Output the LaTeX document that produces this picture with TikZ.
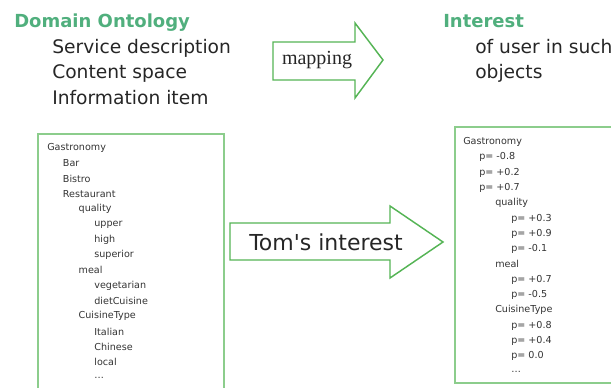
\documentclass[tikz,border=0pt]{standalone}
\usepackage{fontspec}
\setmainfont{DejaVu Sans}
\newfontfamily\mapfont{Liberation Serif}
\usetikzlibrary{positioning}
\definecolor{headgreen}{RGB}{80,175,125}
\definecolor{boxgreen}{RGB}{140,205,140}
\definecolor{arrowgreen}{RGB}{85,180,85}

\begin{document}
\begin{tikzpicture}[x=0.75pt, y=-0.75pt,
    head/.style={anchor=base west, inner sep=0pt, font=\bfseries\fontsize{13.5}{16}\selectfont, text=headgreen},
    item/.style={anchor=base west, inner sep=0pt, font=\fontsize{14}{17}\selectfont, text=black!85},
    tree/.style={anchor=west, inner sep=0pt, font=\fontsize{7.2}{8}\selectfont, text=black!80},
    frame/.style={draw=boxgreen, line width=1.3pt},
    blockarrow/.style={draw=arrowgreen, line width=1.1pt, line join=miter}
]
    \useasboundingbox (0,0) rectangle (611,387);

    % top texts
    \node[head] (onto) at (14,27) {Domain Ontology};
    \node[item] (serv) at (52,53) {Service description};
    \node[item] (cont) at (52,78) {Content space};
    \node[item] (info) at (52,104) {Information item};

    \node[head] (inter) at (443,27) {Interest};
    \node[item] (user) at (475,53) {of user in such};
    \node[item] (objs) at (475,78) {objects};

    % mapping arrow
    \draw[blockarrow] (273,42) -- (355,42) -- (355,23) -- (383,60) -- (355,98) -- (355,80) -- (273,80) -- cycle;
    \node[font=\mapfont\fontsize{15}{18}\selectfont, text=black!85] (map) at (317,60) {mapping};

    % the two boxes
    \draw[frame] (38,134) rectangle (224,390);
    \draw[frame] (455,127) rectangle (620,383);

    % Tom's arrow
    \draw[blockarrow] (230,223) -- (390,223) -- (390,206) -- (443,242) -- (390,278) -- (390,260) -- (230,260) -- cycle;
    \node[font=\fontsize{16.5}{20}\selectfont, text=black!85] (tom) at (326,242) {Tom\textquotesingle s interest};

    % ontology tree
    \foreach \lvl/\txt [count=\n] in {0/Gastronomy, 1/Bar, 1/Bistro, 1/Restaurant, 2/quality, 3/upper, 3/high, 3/superior,
        2/meal, 3/vegetarian, 3/dietCuisine, 2/CuisineType, 3/Italian, 3/Chinese, 3/local, 3/{\ldots}}
        \node[tree] (onto\n) at ({47+15.7*\lvl},{148+15.3*(\n-1)}) {\txt};

    % interest tree
    \foreach \lvl/\txt [count=\n] in {0/Gastronomy, 1/p= -0.8, 1/p= +0.2, 1/p= +0.7, 2/quality, 3/p= +0.3, 3/p= +0.9, 3/p= -0.1,
        2/meal, 3/p= +0.7, 3/p= -0.5, 2/CuisineType, 3/p= +0.8, 3/p= +0.4, 3/p= 0.0, 3/{\ldots}}
        \node[tree] (int\n) at ({463+16*\lvl},{142+15.3*(\n-1)}) {\txt};
\end{tikzpicture}
\end{document}
